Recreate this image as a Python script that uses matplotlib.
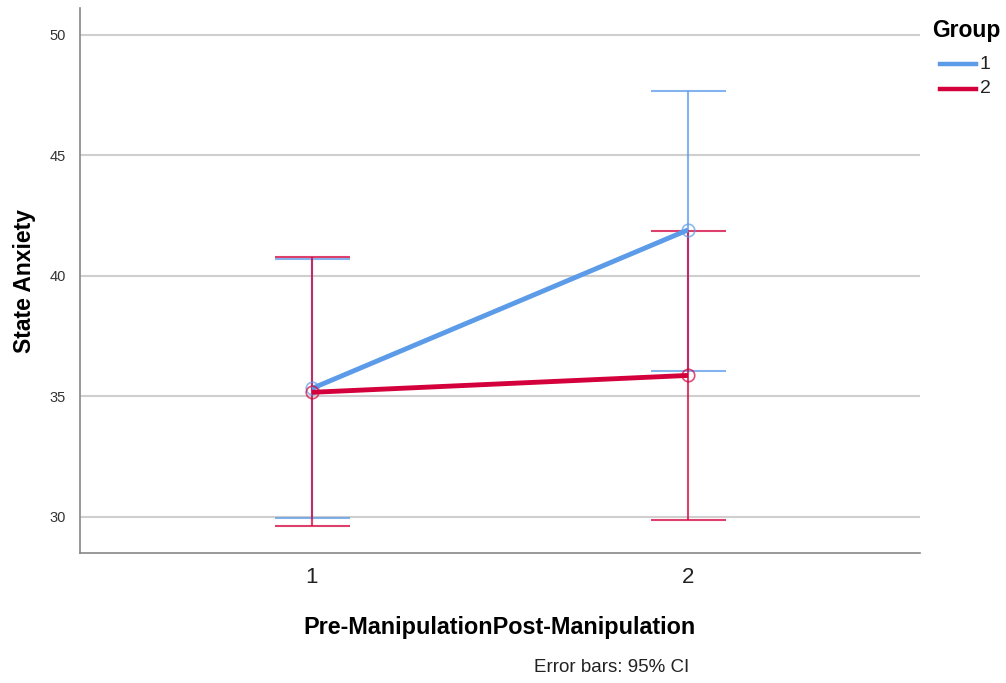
import matplotlib
matplotlib.use("Agg")
import matplotlib.pyplot as plt
from matplotlib.lines import Line2D

plt.rcParams['font.family'] = ['Liberation Sans', 'DejaVu Sans']

conditions = [1, 2]
groups = ["1", "2"]
means_g1 = [35.33, 41.91]
lower_g1 = [29.97, 36.06]
upper_g1 = [40.72, 47.68]
means_g2 = [35.17, 35.87]
lower_g2 = [29.63, 29.88]
upper_g2 = [40.80, 41.87]

blue = '#5b9be8'
red = '#d4003c'
colors = [blue, red]

fig = plt.figure(figsize=(10.06, 6.83), dpi=100)
ax = fig.add_axes([0.0795, 0.1903, 0.835, 0.798])

for means, lo, hi, col, z in [(means_g1, lower_g1, upper_g1, blue, 3),
                              (means_g2, lower_g2, upper_g2, red, 4)]:
    yerr = [[m - l for m, l in zip(means, lo)], [h - m for m, h in zip(means, hi)]]
    ax.errorbar(conditions, means, yerr=yerr, fmt='none', ecolor=col, elinewidth=1.5,
                capsize=27, capthick=1.5, alpha=0.75, zorder=z)
    ax.plot(conditions, means, color=col, lw=3.5, zorder=z + 2, solid_capstyle='butt')
    ax.plot(conditions, means, 'o', ms=9, mfc='none', mec=col, mew=1.2, alpha=0.7, zorder=z + 3)

ax.set_xlim(0.383, 2.617)
ax.set_ylim(28.5, 51.12)
ax.set_yticks([30, 35, 40, 45, 50])
ax.set_xticks(conditions)
ax.set_xticklabels(['1', '2'], fontsize=16, color='#222222')
ax.tick_params(axis='y', labelsize=10.5, colors='#333333', length=0, pad=10)
ax.tick_params(axis='x', length=0, pad=10)
ax.yaxis.grid(True, color='#cfcfcf', lw=1.5)
ax.set_axisbelow(True)
for s in ['top', 'right']:
    ax.spines[s].set_visible(False)
for s in ['left', 'bottom']:
    ax.spines[s].set_color('#888888')
    ax.spines[s].set_linewidth(1.2)

ax.set_ylabel('State Anxiety', fontsize=16.5, fontweight='bold')
ax.yaxis.set_label_coords(-0.052, 0.5)
ax.set_xlabel('Pre-ManipulationPost-Manipulation', fontsize=16.8, fontweight='bold', labelpad=20)

fig.text(0.927, 0.955, 'Group', fontsize=16.5, fontweight='bold', ha='left', va='center')
leg_y = [0.906, 0.870]
for lab, col, yy in zip(groups, colors, leg_y):
    fig.add_artist(Line2D([0.934, 0.970], [yy, yy], color=col, lw=3.2, transform=fig.transFigure))
    fig.text(0.974, yy, lab, fontsize=14, ha='left', va='center', color='#222222')

fig.text(0.608, 0.023, 'Error bars: 95% CI', fontsize=13.5, ha='center', va='center', color='#222222')

fig.savefig('out.png', dpi=100)
